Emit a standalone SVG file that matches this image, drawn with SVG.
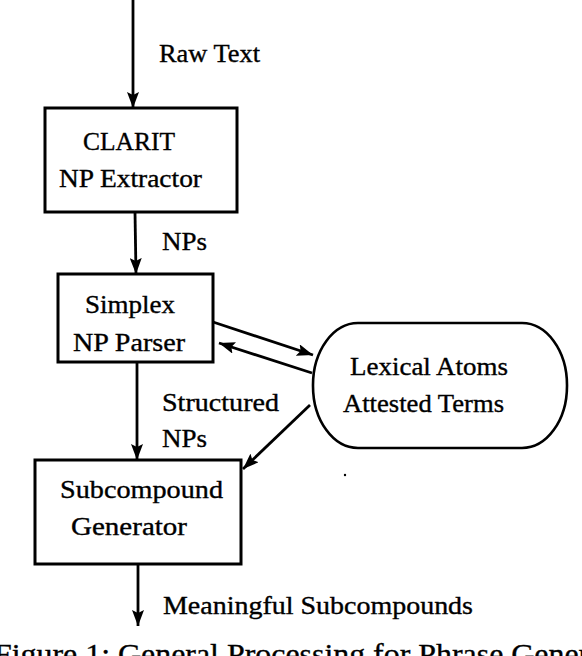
<svg xmlns="http://www.w3.org/2000/svg" width="582" height="656" viewBox="0 0 582 656">
  <style>
    .box { fill: #fff; stroke: #000; stroke-width: 3; }
    .oval { fill: #fff; stroke: #000; stroke-width: 2.6; }
    .lbl { font-family: "Liberation Serif", "Times New Roman", serif; font-size: 25px; fill: #000; stroke: #000; stroke-width: 0.35; }
    .cap { font-family: "Liberation Serif", "Times New Roman", serif; font-size: 30px; fill: #000; stroke: #000; stroke-width: 0.35; }
    .conn { stroke: #000; stroke-width: 2.8; fill: none; marker-end: url(#arr); }
  </style>
  <defs>
    <marker id="arr" markerUnits="userSpaceOnUse" markerWidth="18" markerHeight="12" refX="16" refY="6" orient="auto">
      <path d="M0,0 L16,6 L0,12 L3,6 z" fill="#000"/>
    </marker>
  </defs>
  <rect width="582" height="656" fill="#fff"/>

  <g id="connectors">
    <line class="conn" x1="133" y1="0" x2="133" y2="108"/>
    <line class="conn" x1="135" y1="212" x2="136" y2="274"/>
    <line class="conn" x1="137" y1="362" x2="137" y2="460"/>
    <line class="conn" x1="138" y1="564" x2="138" y2="626"/>
    <line class="conn" x1="213" y1="322" x2="313" y2="355"/>
    <line class="conn" x1="312" y1="373" x2="219" y2="343"/>
    <line class="conn" x1="310" y1="405" x2="243" y2="469"/>
  </g>

  <g id="edge-labels">
    <text class="lbl" x="159" y="62" textLength="101" lengthAdjust="spacingAndGlyphs">Raw Text</text>
    <text class="lbl" x="162" y="250" textLength="45" lengthAdjust="spacingAndGlyphs">NPs</text>
    <text class="lbl" x="162" y="411" textLength="117" lengthAdjust="spacingAndGlyphs">Structured</text>
    <text class="lbl" x="162" y="447" textLength="45" lengthAdjust="spacingAndGlyphs">NPs</text>
    <text class="lbl" x="163" y="614" textLength="310" lengthAdjust="spacingAndGlyphs">Meaningful Subcompounds</text>
  </g>

  <g id="clarit">
    <rect class="box" x="45" y="108" width="192" height="104"/>
    <text class="lbl" x="83" y="150" textLength="92" lengthAdjust="spacingAndGlyphs">CLARIT</text>
    <text class="lbl" x="59" y="187" textLength="143" lengthAdjust="spacingAndGlyphs">NP Extractor</text>
  </g>

  <g id="simplex">
    <rect class="box" x="58" y="274" width="155" height="88"/>
    <text class="lbl" x="85" y="313" textLength="90" lengthAdjust="spacingAndGlyphs">Simplex</text>
    <text class="lbl" x="73" y="351" textLength="112" lengthAdjust="spacingAndGlyphs">NP Parser</text>
  </g>

  <g id="lexical">
    <rect class="oval" x="313" y="323" width="254" height="125" rx="45" ry="62"/>
    <text class="lbl" x="350" y="375" textLength="158" lengthAdjust="spacingAndGlyphs">Lexical Atoms</text>
    <text class="lbl" x="343" y="412" textLength="161" lengthAdjust="spacingAndGlyphs">Attested Terms</text>
  </g>

  <g id="subcompound">
    <rect class="box" x="35" y="460" width="206" height="104"/>
    <text class="lbl" x="60" y="498" textLength="163" lengthAdjust="spacingAndGlyphs">Subcompound</text>
    <text class="lbl" x="71" y="535" textLength="116" lengthAdjust="spacingAndGlyphs">Generator</text>
  </g>

  <circle cx="345" cy="475" r="1.2" fill="#000"/>

  <text class="cap" x="-6" y="664" textLength="659" lengthAdjust="spacingAndGlyphs">Figure 1: General Processing for Phrase Generation</text>
</svg>
